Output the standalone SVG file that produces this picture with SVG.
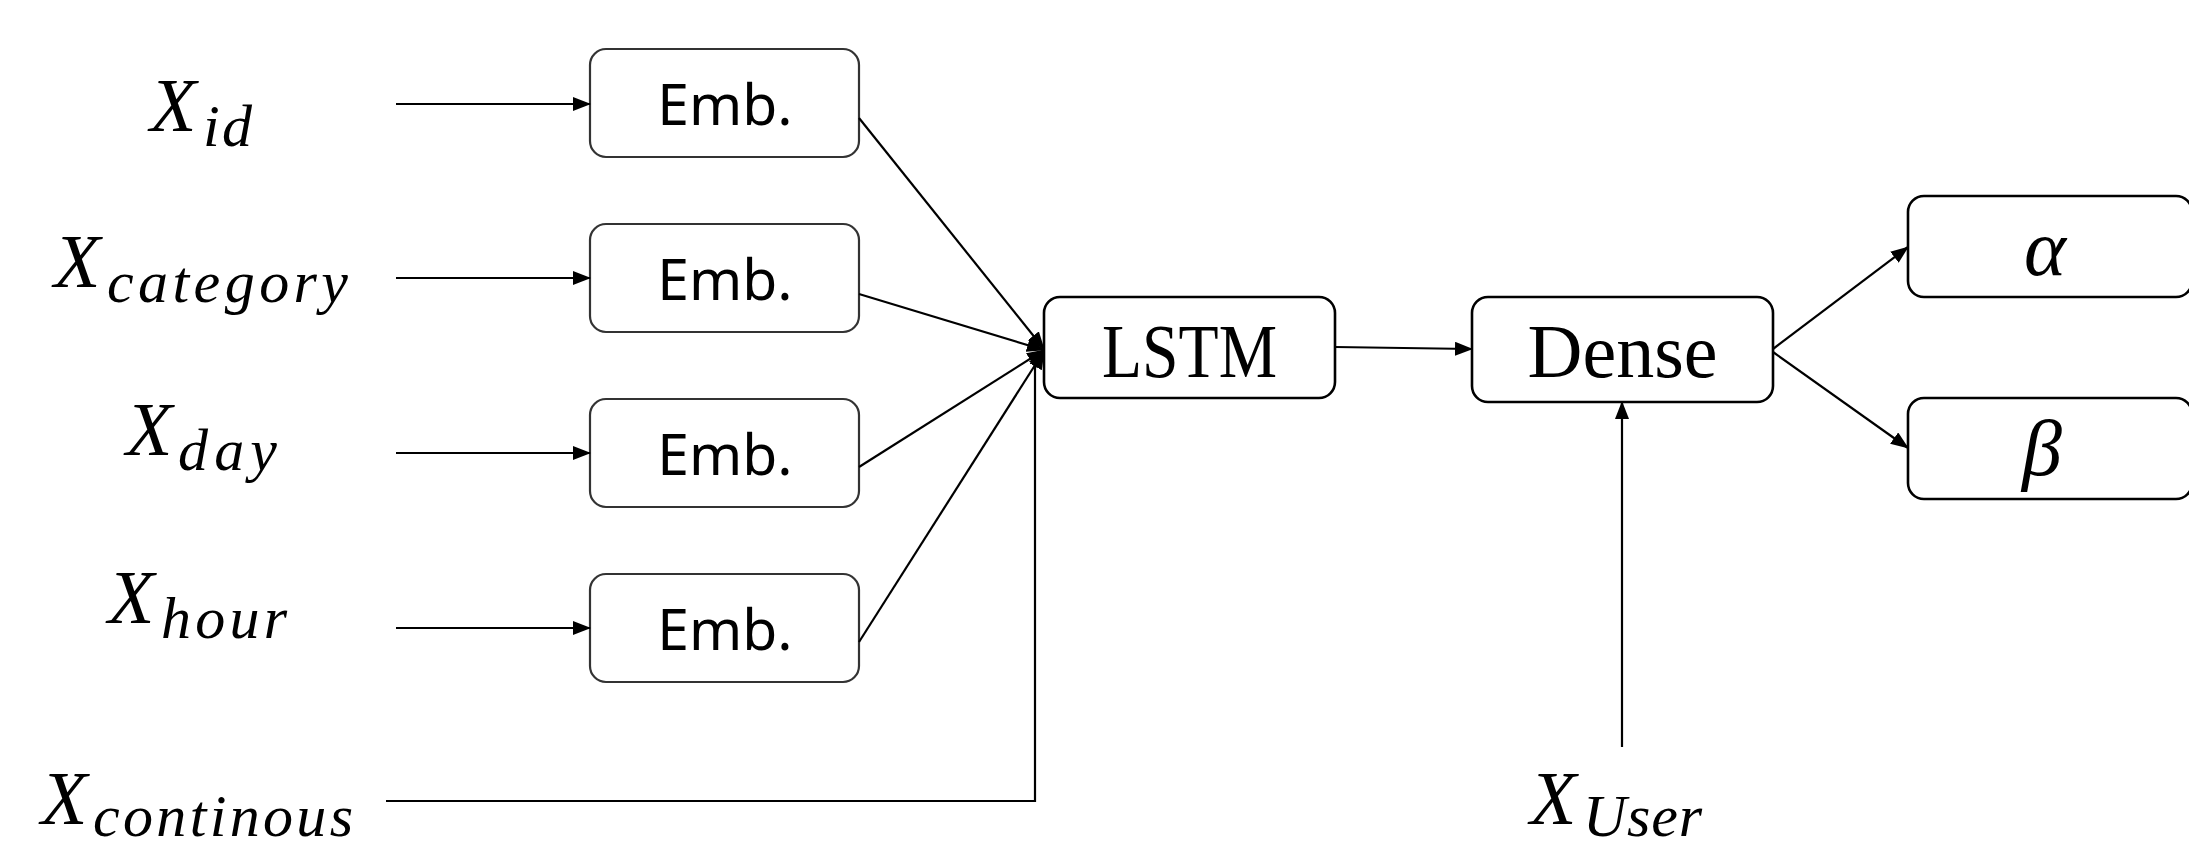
<svg xmlns="http://www.w3.org/2000/svg" width="2189" height="849" viewBox="0 0 2189 849">
<defs>
<style>
.emb{fill:#fff;stroke:#333;stroke-width:2.2}
.box{fill:#fff;stroke:#000;stroke-width:2.6}
.lbl{font-family:"Liberation Serif",serif;font-style:italic;fill:#000}
.big{font-size:76px}
.sub{font-size:60px}
.embt{font-family:"Noto Sans","Open Sans",sans-serif;font-size:57px;fill:#000;text-anchor:middle}
.bt{font-family:"Liberation Serif",serif;font-size:76px;fill:#000;text-anchor:middle}
.gr{font-family:"Liberation Serif",serif;font-style:italic;font-size:80px;fill:#000;text-anchor:middle}
.c{fill:none;stroke:#000;stroke-width:2.2}
</style>
<marker id="ah" markerWidth="18" markerHeight="14" refX="17" refY="7" orient="auto" markerUnits="userSpaceOnUse">
<path d="M0,0 L18,7 L0,14 Z" fill="#000"/>
</marker>
</defs>
<rect width="2189" height="849" fill="#fff"/>

<g id="x_id">
<text class="lbl big" x="150" y="131">X</text>
<text class="lbl sub" x="203" y="146" textLength="49" lengthAdjust="spacing">id</text>
</g>
<g id="x_category">
<text class="lbl big" x="54" y="287">X</text>
<text class="lbl sub" x="107" y="302" textLength="241" lengthAdjust="spacing">category</text>
</g>
<g id="x_day">
<text class="lbl big" x="126" y="455">X</text>
<text class="lbl sub" x="178" y="470" textLength="99" lengthAdjust="spacing">day</text>
</g>
<g id="x_hour">
<text class="lbl big" x="108" y="623">X</text>
<text class="lbl sub" x="161" y="638" textLength="126" lengthAdjust="spacing">hour</text>
</g>
<g id="x_continous">
<text class="lbl big" x="41" y="824">X</text>
<text class="lbl sub" x="93" y="836" textLength="260" lengthAdjust="spacing">continous</text>
</g>
<g id="x_user">
<text class="lbl big" x="1530" y="824">X</text>
<text class="lbl sub" x="1583" y="836" textLength="119" lengthAdjust="spacing">User</text>
</g>

<g id="emb1"><rect class="emb" x="590" y="49" width="269" height="108" rx="16"/><text class="embt" x="725" y="125">Emb.</text></g>
<g id="emb2"><rect class="emb" x="590" y="224" width="269" height="108" rx="16"/><text class="embt" x="725" y="300">Emb.</text></g>
<g id="emb3"><rect class="emb" x="590" y="399" width="269" height="108" rx="16"/><text class="embt" x="725" y="475">Emb.</text></g>
<g id="emb4"><rect class="emb" x="590" y="574" width="269" height="108" rx="16"/><text class="embt" x="725" y="650">Emb.</text></g>

<g id="lstm"><rect class="box" x="1044" y="297" width="291" height="101" rx="16"/><text class="bt" x="1189.5" y="377" textLength="175" lengthAdjust="spacingAndGlyphs">LSTM</text></g>
<g id="dense"><rect class="box" x="1472" y="297" width="301" height="105" rx="16"/><text class="bt" x="1622.5" y="377">Dense</text></g>
<g id="alpha"><rect class="box" x="1908" y="196" width="284" height="101" rx="16"/><text class="gr" x="2045" y="275">α</text></g>
<g id="beta"><rect class="box" x="1908" y="398" width="284" height="101" rx="16"/><text class="gr" x="2042" y="475">β</text></g>

<g id="connectors">
<line class="c" x1="396" y1="104" x2="590" y2="104" marker-end="url(#ah)"/>
<line class="c" x1="396" y1="278" x2="590" y2="278" marker-end="url(#ah)"/>
<line class="c" x1="396" y1="453" x2="590" y2="453" marker-end="url(#ah)"/>
<line class="c" x1="396" y1="628" x2="590" y2="628" marker-end="url(#ah)"/>
<line class="c" x1="859" y1="118" x2="1044" y2="349" marker-end="url(#ah)"/>
<line class="c" x1="859" y1="294" x2="1044" y2="350" marker-end="url(#ah)"/>
<line class="c" x1="859" y1="467" x2="1044" y2="350" marker-end="url(#ah)"/>
<line class="c" x1="859" y1="642" x2="1044" y2="351" marker-end="url(#ah)"/>
<polyline class="c" points="386,801 1035,801 1035,368 1044,352" marker-end="url(#ah)"/>
<line class="c" x1="1335" y1="347" x2="1472" y2="349" marker-end="url(#ah)"/>
<line class="c" x1="1622" y1="747" x2="1622" y2="402" marker-end="url(#ah)"/>
<line class="c" x1="1773" y1="349" x2="1908" y2="247" marker-end="url(#ah)"/>
<line class="c" x1="1773" y1="352" x2="1908" y2="448" marker-end="url(#ah)"/>
</g>
</svg>
